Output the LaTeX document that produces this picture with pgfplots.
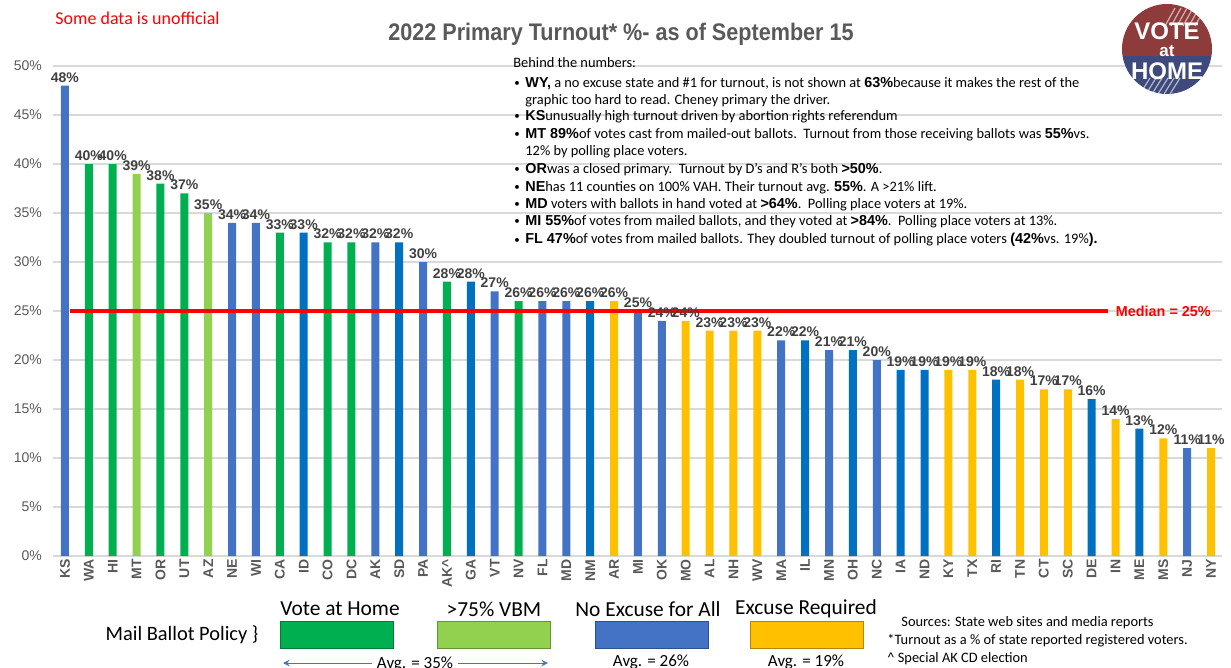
\documentclass[border=0pt]{standalone}
\usepackage{pgfplots}
\pgfplotsset{compat=1.18}
\usepackage{fontspec}
\setmainfont{Liberation Sans}
\newfontfamily\calibri{Carlito}
\definecolor{mblue}{HTML}{4472C4}
\definecolor{dblue}{HTML}{0070C0}
\definecolor{vgreen}{HTML}{00B050}
\definecolor{lgreen}{HTML}{92D050}
\definecolor{vyellow}{HTML}{FFC000}
\definecolor{tgray}{HTML}{595959}
\definecolor{lgray}{HTML}{404040}
\definecolor{gridgray}{HTML}{D9D9D9}
\definecolor{logored}{HTML}{8E3B3B}
\definecolor{logoblue}{HTML}{3E4A7C}
\newcommand\B[1]{{\rmfamily\bfseries #1}}
\begin{document}
\begin{tikzpicture}
\begin{axis}[
  at={(26.5pt,-278pt)}, anchor=south west,
  scale only axis, width=584.5pt, height=245pt,
  ybar, bar width=4pt, bar shift=0pt,
  xmin=-0.5, xmax=48.46, ymin=0, ymax=50,
  clip=false,
  axis line style={draw=none},
  major tick length=0pt,
  ymajorgrids, grid style={gridgray, line width=0.6pt},
  /pgf/number format/assume math mode=true,
  xtick={0,...,48},
  xticklabels={KS,WA,HI,MT,OR,UT,AZ,NE,WI,CA,ID,CO,DC,AK,SD,PA,AK\textasciicircum,GA,VT,NV,FL,MD,NM,AR,MI,OK,MO,AL,NH,WV,MA,IL,MN,OH,NC,IA,ND,KY,TX,RI,TN,CT,SC,DE,IN,ME,MS,NJ,NY},
  x tick label style={rotate=90, anchor=east, font=\bfseries\fontsize{7}{8}\selectfont, text=tgray, inner sep=1.5pt},
  ytick={0,5,...,50},
  yticklabels={0\%,5\%,10\%,15\%,20\%,25\%,30\%,35\%,40\%,45\%,50\%},
  y tick label style={font=\fontsize{7}{8}\selectfont, text=tgray, xshift=-2pt},
  lbl/.style={nodes near coords={\pgfmathprintnumber[fixed,precision=0]{\pgfplotspointmeta}\%},
     every node near coord/.append style={font=\bfseries\fontsize{7}{8}\selectfont, text=lgray, anchor=south, inner sep=1.5pt}},
]
\addplot[fill=mblue, draw=none, lbl] coordinates {(0,48) (7,34) (8,34) (13,32) (15,30) (18,27) (20,26) (21,26) (24,25) (25,24) (30,22) (32,21) (34,20) (47,11)};
\addplot[fill=dblue, draw=none, lbl] coordinates {(10,33) (14,32) (17,28) (22,26) (31,22) (33,21) (35,19) (36,19) (39,18) (43,16) (45,13)};
\addplot[fill=vgreen, draw=none, lbl] coordinates {(1,40) (2,40) (4,38) (5,37) (9,33) (11,32) (12,32) (16,28) (19,26)};
\addplot[fill=lgreen, draw=none, lbl] coordinates {(3,39) (6,35)};
\addplot[fill=vyellow, draw=none, lbl] coordinates {(23,26) (26,24) (27,23) (28,23) (29,23) (37,19) (38,19) (40,18) (41,17) (42,17) (44,14) (46,12) (48,11)};
\addplot[sharp plot, draw=red, line width=1.6pt, forget plot] coordinates {(0.2,25) (43.7,25)};
\node[anchor=west, text=red, font=\bfseries\fontsize{7.2}{8}\selectfont, inner sep=0pt] at (axis cs:44.0,25) {Median = 25\%};
\end{axis}
\begin{scope}[x=0.5pt,y=-0.5pt]
% top texts
\node[text=red, font=\calibri\fontsize{9}{10}\selectfont, anchor=west, inner sep=0pt] at (55,18) {Some data is unofficial};
\node[text=tgray, font=\bfseries\fontsize{12}{14}\selectfont, xscale=0.9, inner sep=0pt] at (621,34) {2022 Primary Turnout* \%- as of September 15};
% logo
\begin{scope}
\clip (1167,49) circle (45);
\fill[logored] (1120,0) rectangle (1215,56);
\fill[logoblue] (1120,56) rectangle (1215,96);
\foreach \a in {0,...,5} {\draw[white, line width=0.6pt, opacity=0.6] (1175+\a*6,8) -- (1165+\a*6,26);}
\foreach \a in {0,...,5} {\draw[white, line width=0.6pt, opacity=0.6] (1150+\a*6,78) -- (1140+\a*6,94);}
\end{scope}
\node[text=white, font=\bfseries\fontsize{12}{12}\selectfont, inner sep=0pt] at (1167,31) {VOTE};
\node[text=white, font=\bfseries\fontsize{8.5}{9}\selectfont, inner sep=0pt] at (1167,51) {at};
\node[text=white, font=\bfseries\fontsize{12}{12}\selectfont, inner sep=0pt] at (1167,71) {HOME};
% notes
\begin{scope}[every node/.style={anchor=base west, inner sep=0pt, font=\calibri\fontsize{7.2}{8}\selectfont, text=black}]
\node at (513,68) {Behind the numbers:};
\foreach \yy in {88,121,139,174,192,209,226,244} {\node[font=\calibri\fontsize{5.5}{6}\selectfont] at (514,\yy-1) {\textbullet};}
\node at (525,88) {\B{WY,} a no excuse state and \#1 for turnout, is not shown at \B{63\%}because it makes the rest of the};
\node at (525,105) {graphic too hard to read. Cheney primary the driver.};
\node at (525,121) {\B{KS}unusually high turnout driven by abortion rights referendum};
\node at (525,139) {\B{MT 89\%}of votes cast from mailed-out ballots.\ \ Turnout from those receiving ballots was \B{55\%}vs.};
\node at (525,156) {12\% by polling place voters.};
\node at (525,174) {\B{OR}was a closed primary.\ \ Turnout by D’s and R’s both \B{>50\%}.};
\node at (525,192) {\B{NE}has 11 counties on 100\% VAH. Their turnout avg. \B{55\%}. A >21\% lift.};
\node at (525,209) {\B{MD} voters with ballots in hand voted at \B{>64\%}.\ \ Polling place voters at 19\%.};
\node at (525,226) {\B{MI 55\%}of votes from mailed ballots, and they voted at \B{>84\%}.\ \ Polling place voters at 13\%.};
\node at (525,244) {\B{FL 47\%}of votes from mailed ballots. They doubled turnout of polling place voters \B{(42\%}vs. 19\%\B{).}};
\end{scope}
% legend
\begin{scope}[every node/.style={inner sep=0pt, font=\calibri\fontsize{10.7}{12}\selectfont, text=black}]
\node at (340,609) {Vote at Home};
\node at (494,609) {>75\% VBM};
\node at (648,609) {No Excuse for All};
\node at (806,609) {Excuse Required};
\node[font=\calibri\fontsize{10.2}{12}\selectfont] at (182,635) {Mail Ballot Policy \}};
\end{scope}
\filldraw[fill=vgreen, draw=vgreen!70!black, line width=0.4pt] (280,621) rectangle (393,648);
\filldraw[fill=lgreen, draw=lgreen!70!black, line width=0.4pt] (437,621) rectangle (550,648);
\filldraw[fill=mblue, draw=mblue!70!black, line width=0.4pt] (595,621) rectangle (708,648);
\filldraw[fill=vyellow, draw=vyellow!70!black, line width=0.4pt] (750,621) rectangle (863,648);
\draw[mblue, line width=0.5pt, <-, >=stealth] (283,663) -- (372,663);
\draw[mblue, line width=0.5pt, ->, >=stealth] (458,663) -- (548,663);
\begin{scope}[every node/.style={inner sep=0pt, anchor=north, font=\calibri\fontsize{8.5}{10}\selectfont, text=black}]
\node at (415,656) {Avg. = 35\%};
\node at (651,654) {Avg. = 26\%};
\node at (806,654) {Avg. = 19\%};
\end{scope}
\begin{scope}[every node/.style={inner sep=0pt, anchor=west, font=\calibri\fontsize{7.2}{8}\selectfont, text=black}]
\node at (901,623) {Sources: State web sites and media reports};
\node at (887,641) {*Turnout as a \% of state reported registered voters.};
\node at (887,659) {\textasciicircum\ Special AK CD election};
\end{scope}
\end{scope}
\pgfresetboundingbox
\useasboundingbox (0,0) rectangle (615.5pt,-334pt);
\end{tikzpicture}
\end{document}
